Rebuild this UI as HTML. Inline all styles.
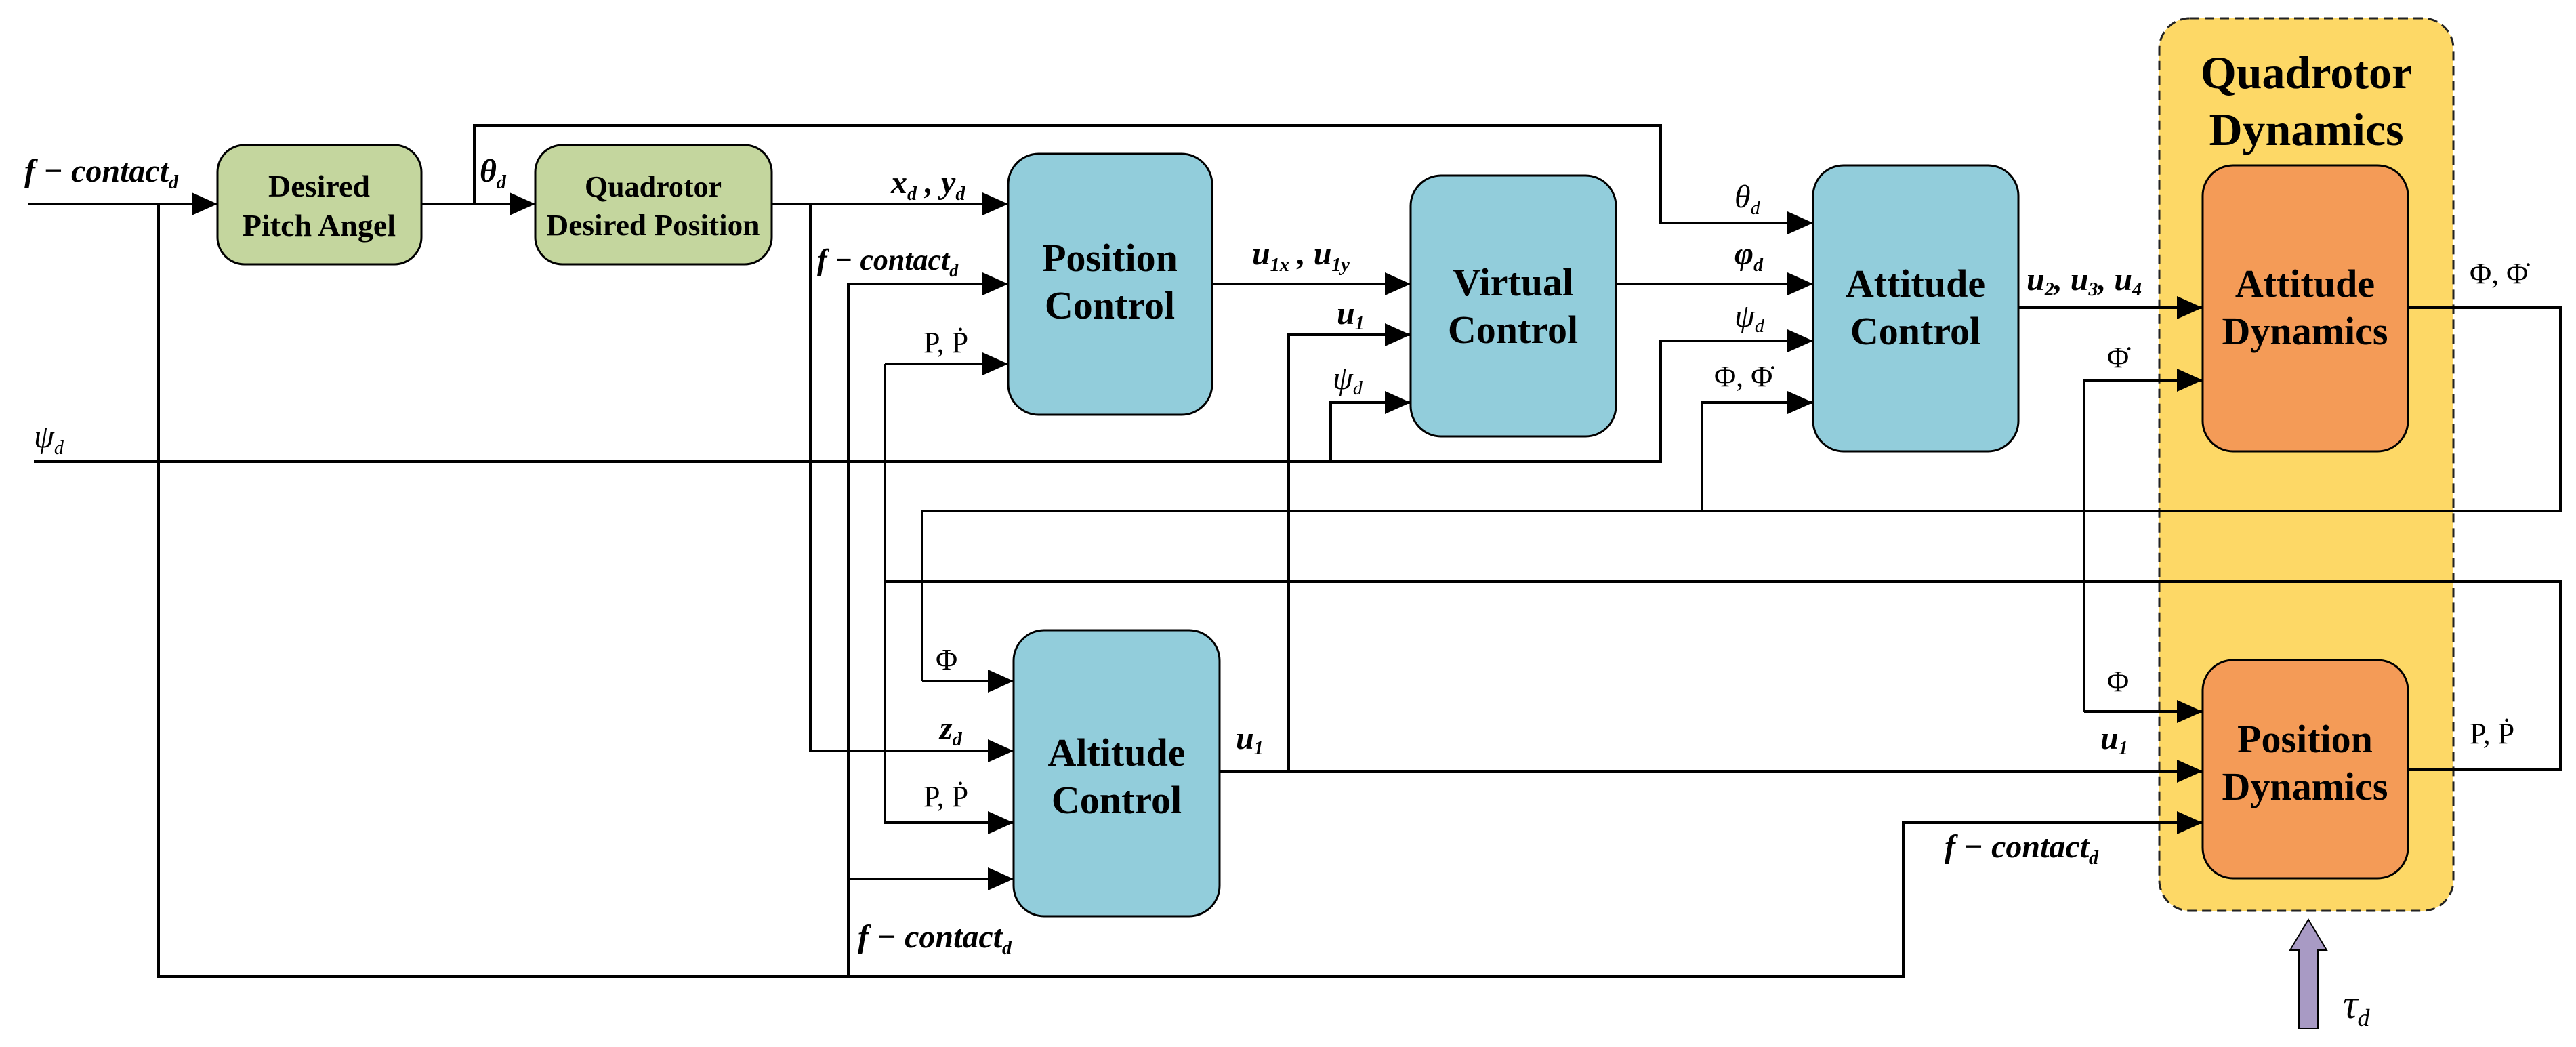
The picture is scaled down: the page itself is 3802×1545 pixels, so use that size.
<!DOCTYPE html>
<html><head><meta charset="utf-8"><style>
html,body{margin:0;padding:0;background:#fff;}
svg{display:block;}
text{font-family:"Liberation Serif",serif;fill:#000;}
.b{font-weight:bold;}
.i{font-style:italic;}
.bi{font-style:italic;font-weight:bold;}
</style></head><body>
<svg width="3802" height="1545" viewBox="0 0 3802 1545" xmlns="http://www.w3.org/2000/svg">
<defs>
<marker id="a" markerUnits="userSpaceOnUse" markerWidth="40" markerHeight="34" refX="38" refY="17" orient="auto">
<polygon points="0,0 38,17 0,34" fill="#000"/>
</marker>
</defs>
<rect x="3187" y="27" width="434" height="1317" rx="45" fill="#fdd866" stroke="#222" stroke-width="3" stroke-dasharray="14,8"/>
<text x="3404" y="130" class="b" font-size="68" text-anchor="middle">Quadrotor</text>
<text x="3404" y="214" class="b" font-size="68" text-anchor="middle">Dynamics</text>

<g fill="none" stroke="#000" stroke-width="4">
<path d="M42,301 H321" marker-end="url(#a)"/>
<path d="M234,301 V1441 H2809 V1214 H3251" marker-end="url(#a)"/>
<path d="M622,301 H790" marker-end="url(#a)"/>
<path d="M700,301 V185 H2451 V329 H2676" marker-end="url(#a)"/>
<path d="M1139,301 H1488" marker-end="url(#a)"/>
<path d="M1196,301 V1108 H1496" marker-end="url(#a)"/>
<path d="M1252,1441 V419 H1488" marker-end="url(#a)"/>
<path d="M1252,1297 H1496" marker-end="url(#a)"/>
<path d="M1306,537 H1488" marker-end="url(#a)"/>
<path d="M1306,537 V1214 H1496" marker-end="url(#a)"/>
<path d="M3554,1135 H3779 V858 H1306"/>
<path d="M1361,1005 H1496" marker-end="url(#a)"/>
<path d="M3554,454 H3779 V754 H1361 V1005"/>
<path d="M2512,754 V594 H2676" marker-end="url(#a)"/>
<path d="M3076,1050 V561 H3251" marker-end="url(#a)"/>
<path d="M3076,1050 H3251" marker-end="url(#a)"/>
<path d="M50,681 H2451 V503 H2676" marker-end="url(#a)"/>
<path d="M1964,681 V594 H2082" marker-end="url(#a)"/>
<path d="M1789,419 H2082" marker-end="url(#a)"/>
<path d="M1800,1138 H3251" marker-end="url(#a)"/>
<path d="M1902,1138 V494 H2082" marker-end="url(#a)"/>
<path d="M2385,419 H2676" marker-end="url(#a)"/>
<path d="M2979,454 H3251" marker-end="url(#a)"/>
</g>

<g stroke="#000" stroke-width="3">
<rect x="321" y="214" width="301" height="176" rx="40" fill="#c4d69e"/>
<rect x="790" y="214" width="349" height="176" rx="40" fill="#c4d69e"/>
<rect x="1488" y="227" width="301" height="385" rx="45" fill="#92cddb"/>
<rect x="2082" y="259" width="303" height="385" rx="45" fill="#92cddb"/>
<rect x="2676" y="244" width="303" height="422" rx="45" fill="#92cddb"/>
<rect x="1496" y="930" width="304" height="422" rx="45" fill="#92cddb"/>
<rect x="3251" y="244" width="303" height="422" rx="45" fill="#f49b57"/>
<rect x="3251" y="974" width="303" height="322" rx="45" fill="#f49b57"/>
</g>

<g class="b" text-anchor="middle">
<text x="471" y="290" font-size="46">Desired</text>
<text x="471" y="348" font-size="46">Pitch Angel</text>
<text x="964" y="290" font-size="44">Quadrotor</text>
<text x="964" y="347" font-size="44" textLength="315" lengthAdjust="spacingAndGlyphs">Desired Position</text>
<text x="1638" y="400" font-size="58">Position</text>
<text x="1638" y="470" font-size="58">Control</text>
<text x="2233" y="436" font-size="58">Virtual</text>
<text x="2233" y="506" font-size="58">Control</text>
<text x="2827" y="438" font-size="58">Attitude</text>
<text x="2827" y="508" font-size="58">Control</text>
<text x="1648" y="1130" font-size="58">Altitude</text>
<text x="1648" y="1200" font-size="58">Control</text>
<text x="3402" y="438" font-size="58">Attitude</text>
<text x="3402" y="508" font-size="58">Dynamics</text>
<text x="3402" y="1110" font-size="58">Position</text>
<text x="3402" y="1180" font-size="58">Dynamics</text>
</g>

<g font-size="48">
<text x="36" y="268" class="bi">f − contact<tspan font-size="28" dy="10">d</tspan></text>
<text x="708" y="268" class="bi">θ<tspan font-size="28" dy="10">d</tspan></text>
<text x="1315" y="285" class="bi">x<tspan font-size="28" dy="10">d</tspan><tspan dy="-10"> , y</tspan><tspan font-size="28" dy="10">d</tspan></text>
<text x="1206" y="398" class="bi" font-size="44">f − contact<tspan font-size="26" dy="10">d</tspan></text>
<text x="1363" y="520" font-size="44">P, Ṗ</text>
<text x="50" y="660" class="i">ψ<tspan font-size="28" dy="10">d</tspan></text>
<text x="1848" y="390" class="bi">u<tspan font-size="28" dy="10">1x</tspan><tspan dy="-10"> , u</tspan><tspan font-size="28" dy="10">1y</tspan></text>
<text x="1973" y="478" class="bi">u<tspan font-size="28" dy="8">1</tspan></text>
<text x="1967" y="574" class="i">ψ<tspan font-size="28" dy="8">d</tspan></text>
<text x="2560" y="306" class="i">θ<tspan font-size="28" dy="10">d</tspan></text>
<text x="2560" y="390" class="bi">φ<tspan font-size="28" dy="10">d</tspan></text>
<text x="2560" y="482" class="i">ψ<tspan font-size="28" dy="8">d</tspan></text>
<text x="2530" y="570" font-size="44">Φ, Φ̇</text>
<text x="2991" y="428" class="bi">u<tspan font-size="28" dy="8">2</tspan><tspan dy="-8">, u</tspan><tspan font-size="28" dy="8">3</tspan><tspan dy="-8">, u</tspan><tspan font-size="28" dy="8">4</tspan></text>
<text x="3645" y="418" font-size="44">Φ, Φ̇</text>
<text x="3110" y="542" font-size="44">Φ̇</text>
<text x="3110" y="1020" font-size="44">Φ</text>
<text x="3100" y="1105" class="bi">u<tspan font-size="28" dy="8">1</tspan></text>
<text x="3645" y="1097" font-size="44">P, Ṗ</text>
<text x="2870" y="1265" class="bi">f − contact<tspan font-size="28" dy="10">d</tspan></text>
<text x="1381" y="988" font-size="44">Φ</text>
<text x="1387" y="1090" class="bi">z<tspan font-size="28" dy="10">d</tspan></text>
<text x="1363" y="1190" font-size="44">P, Ṗ</text>
<text x="1266" y="1398" class="bi">f − contact<tspan font-size="28" dy="10">d</tspan></text>
<text x="1824" y="1105" class="bi">u<tspan font-size="28" dy="8">1</tspan></text>
<text x="3458" y="1502" class="i" font-size="60">τ<tspan font-size="36" dy="12">d</tspan></text>
</g>

<polygon points="3393,1518 3393,1402 3380,1402 3407,1357 3434,1402 3421,1402 3421,1518" fill="#a89ac4" stroke="#000" stroke-width="2"/>
</svg>
</body></html>
